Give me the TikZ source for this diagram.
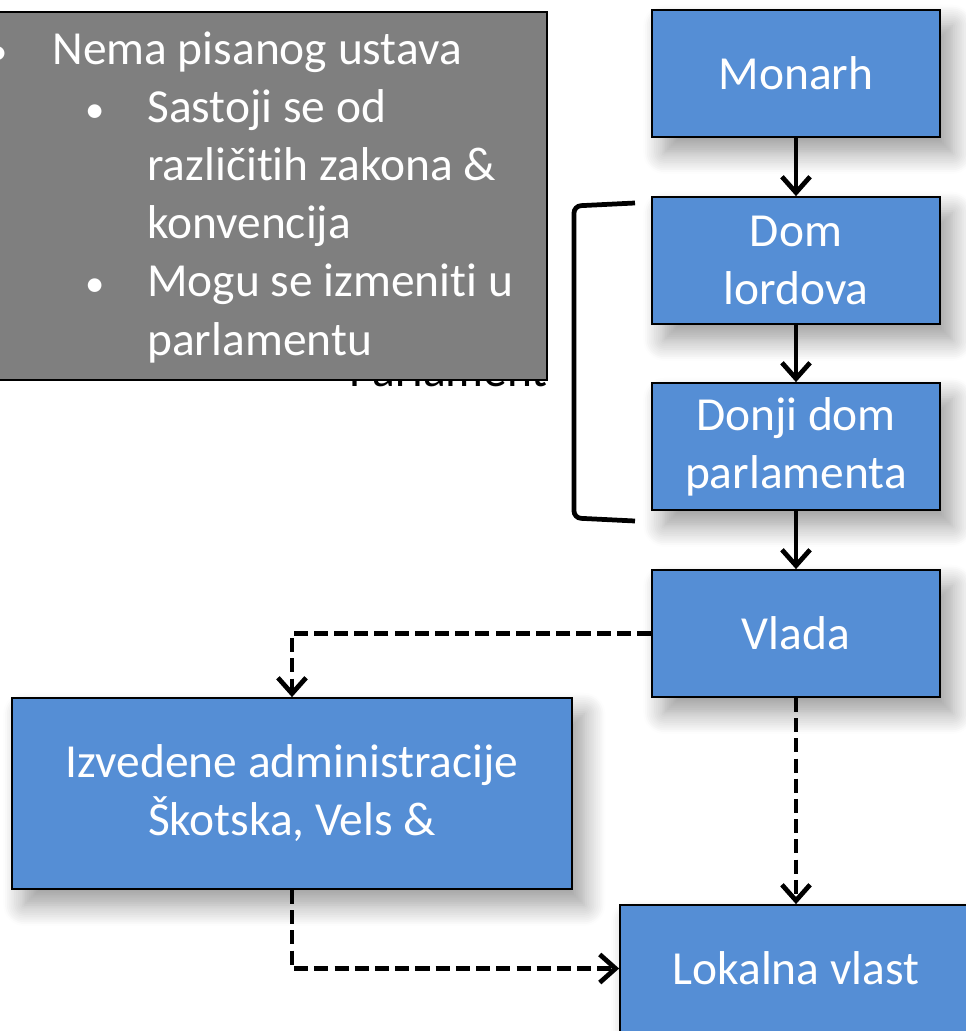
\documentclass[tikz,border=0pt]{standalone}
\usepackage{fontspec}
\setmainfont{Carlito}[Ligatures=NoCommon]
\usetikzlibrary{arrows.meta,shadows.blur}
\definecolor{boxblue}{HTML}{558ED5}
\definecolor{notegray}{HTML}{7F7F7F}
\tikzset{
  box/.style={draw=black, line width=1pt, fill=boxblue, text=white,
    minimum width=5.76cm, minimum height=2.54cm, align=center,
    font=\fontsize{27}{33}\selectfont,
    blur shadow={shadow xshift=7pt, shadow yshift=-9pt, shadow blur radius=12pt, shadow blur steps=12, shadow opacity=40}},
  arr/.style={line width=2.7pt, -{Straight Barb[length=9pt,width=16pt]}},
  darr/.style={arr, dash pattern=on 8pt off 3.5pt},
  notetext/.style={text=white, font=\fontsize{27}{33}\selectfont, inner sep=0pt},
  dot/.style={notetext, font=\fontsize{22}{33}\selectfont, anchor=base},
}
\begin{document}
\begin{tikzpicture}
  \useasboundingbox (0,0) rectangle (19.3,-20.62);
  % boxes
  \node[box] (monarh) at (15.92,-1.47) {Monarh};
  \node[box] (lordovi) at (15.92,-5.21) {Dom\\lordova};
  \node[box] (donji) at (15.92,-8.93) {Donji dom\\parlamenta};
  \node[box] (vlada) at (15.92,-12.67) {Vlada};
  \node[box, minimum width=11.2cm, minimum height=3.82cm] (izvedene) at (5.84,-15.87) {Izvedene administracije\\Škotska, Vels \&};
  \node[box, minimum width=7.04cm] (lokalna) at (15.92,-19.37) {Lokalna vlast};
  % bracket
  \draw[line width=2.7pt, rounded corners=4pt] (12.7,-4.06) -- (11.48,-4.12) -- (11.48,-10.36) -- (12.7,-10.42);
  % connectors
  \draw[arr] (monarh) -- (lordovi);
  \draw[arr] (lordovi) -- (donji);
  \draw[arr] (donji) -- (vlada);
  \draw[darr] (vlada.west) -| (izvedene.north);
  \draw[darr] (vlada) -- (lokalna);
  \draw[darr] (izvedene.south) |- (lokalna.west);
  % label behind the note
  \node[anchor=base east, inner sep=0pt, font=\fontsize{27}{33}\selectfont] (parlament) at (10.96,-7.74) {Parlament};
  % note
  \node[draw=black, line width=1pt, fill=notegray, minimum width=11.34cm, minimum height=7.36cm] (note) at (5.27,-3.92) {};
  \node[dot] (b1) at (-0.04,-1.3) {•};
  \node[notetext, anchor=base west] (t1) at (1.04,-1.3) {Nema pisanog ustava};
  \node[dot] (b2) at (1.9,-2.46) {•};
  \node[notetext, anchor=base west] (t2) at (2.94,-2.46) {Sastoji se od};
  \node[notetext, anchor=base west] (t3) at (2.94,-3.62) {različitih zakona \&};
  \node[notetext, anchor=base west] (t4) at (2.94,-4.78) {konvencija};
  \node[dot] (b3) at (1.9,-5.94) {•};
  \node[notetext, anchor=base west] (t5) at (2.94,-5.94) {Mogu se izmeniti u};
  \node[notetext, anchor=base west] (t6) at (2.94,-7.1) {parlamentu};
\end{tikzpicture}
\end{document}
